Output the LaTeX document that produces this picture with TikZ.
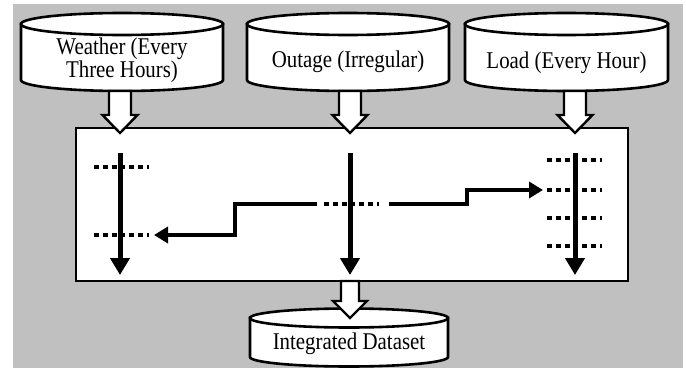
\documentclass[tikz,border=0pt]{standalone}
\usepackage{fontspec}
\setmainfont{Liberation Serif}[FakeStretch=0.87]
\usetikzlibrary{arrows.meta,calc}
\definecolor{panel}{RGB}{192,192,192}

\tikzset{
  cylline/.style={draw=black, line width=2.6pt, fill=white},
  cyltext/.style={font=\fontsize{24}{23}\selectfont, align=center, inner sep=0pt},
  blk/.style={draw=black, line width=2.4pt, fill=white, line join=miter},
  framebox/.style={draw=black, line width=2.5pt, fill=white, inner sep=0pt},
  flow/.style={line width=5pt, -{Triangle[length=17pt,width=19pt]}},
  slot/.style={line width=4pt, dash pattern=on 5pt off 3.8pt},
  conn/.style={line width=4pt, -{Triangle[length=14pt,width=16pt]}},
}

% database cylinder: centre x, top ellipse y, bottom ellipse y, x radius, y radius
\newcommand\drawcyl[5]{%
  \path[cylline] (#1-#4,#2) -- (#1-#4,#3)
    arc[start angle=180, end angle=360, x radius=#4 pt, y radius=#5 pt]
    -- (#1+#4,#2) -- cycle;
  \draw[cylline] (#1,#2) ellipse[x radius=#4 pt, y radius=#5 pt];
}

% hollow block arrow pointing down: from, to, half shaft, half head, head length
\newcommand\blockarrow[5]{%
  \path[blk] let \p1=(#1), \p2=(#2) in
    (\x1-#3pt,\y1) -- (\x1-#3pt,\y2+#5pt) -- (\x1-#4pt,\y2+#5pt) -- (\x1,\y2)
    -- (\x1+#4pt,\y2+#5pt) -- (\x1+#3pt,\y2+#5pt) -- (\x1+#3pt,\y1) -- cycle;
}

\begin{document}
\begin{tikzpicture}[x=1pt, y=1pt]
  \useasboundingbox (0,0) rectangle (686,368);
  \fill[panel] (13,0) rectangle (683,364);

  % merging frame
  \node[framebox, minimum width=552pt, minimum height=153pt] (box) at (352,163.5) {};

  % sources
  \drawcyl{122}{344}{288}{101}{11}
  \node[cyltext] (wthr) at (122,308) {Weather (Every\\Three Hours)};
  \drawcyl{348}{344}{288}{101}{11}
  \node[cyltext] (outg) at (348,306) {Outage (Irregular)};
  \drawcyl{566.5}{344}{288}{101.5}{11}
  \node[cyltext] (load) at (566.5,305) {Load (Every Hour)};

  % result
  \drawcyl{349}{50}{11}{99}{9.5}
  \node[cyltext] (intg) at (349,24) {Integrated Dataset};

  % time axes inside the frame
  \coordinate (wTop) at (120,215);  \coordinate (wEnd) at (120,93);
  \coordinate (oTop) at (350,215);  \coordinate (oEnd) at (350,93);
  \coordinate (lTop) at (575,215);  \coordinate (lEnd) at (575,93);

  % time stamps
  \draw[slot] (94,201) -- (149,201);
  \draw[slot] (94,133) -- (149,133);
  \draw[slot] (324,164) -- (379,164);
  \draw[slot] (547,208) -- (602,208);
  \draw[slot] (547,178) -- (602,178);
  \draw[slot] (547,150) -- (602,150);
  \draw[slot] (547,122) -- (602,122);

  \draw[flow] (wTop) -- (wEnd);
  \draw[flow] (oTop) -- (oEnd);
  \draw[flow] (lTop) -- (lEnd);

  % matching an outage record to the nearest records
  \coordinate (oL) at (317,164);
  \coordinate (oR) at (389,164);
  \coordinate (wSlot) at (154,133);
  \coordinate (lSlot) at (543,178);
  \draw[conn] (oL) -- (235,164) |- (wSlot);
  \draw[conn] (oR) -- (467,164) |- (lSlot);

  % inputs and output
  \coordinate (wIn) at (120,277);  \coordinate (wTip) at (120,235);
  \coordinate (oIn) at (350,277);  \coordinate (oTip) at (350,235);
  \coordinate (lIn) at (575,277);  \coordinate (lTip) at (575,235);
  \blockarrow{wIn}{wTip}{11}{17.5}{18}
  \blockarrow{oIn}{oTip}{11}{17.5}{18}
  \blockarrow{lIn}{lTip}{11}{17.5}{18}
  \coordinate (bOut) at (350,87);  \coordinate (iTip) at (350,50);
  \blockarrow{bOut}{iTip}{9}{17}{17}
\end{tikzpicture}
\end{document}
